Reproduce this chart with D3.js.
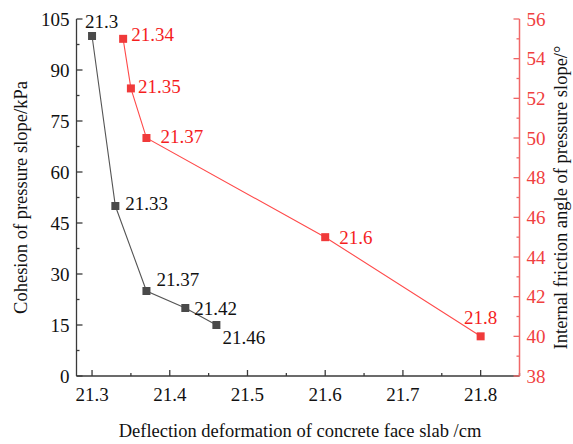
<!DOCTYPE html>
<html>
<head>
<meta charset="utf-8">
<script src="https://cdn.jsdelivr.net/npm/d3@7/dist/d3.min.js"></script>
<style>
  html, body { margin: 0; padding: 0; background: #fff; }
  svg { display: block; }
</style>
</head>
<body>
<svg id="chart" width="573" height="444"></svg>
<script>
// Cohesion series (left axis)
const cohesionDeflection = [21.3, 21.33, 21.37, 21.42, 21.46];
const cohesionValues = [100, 50, 25, 20, 15];
const cohesionLabels = ["21.3", "21.33", "21.37", "21.42", "21.46"];

// Internal friction angle series (right axis)
const frictionDeflection = [21.34, 21.35, 21.37, 21.6, 21.8];
const frictionValues = [55, 52.5, 50, 45, 40];
const frictionLabels = ["21.34", "21.35", "21.37", "21.6", "21.8"];

const xTicks = [21.3, 21.4, 21.5, 21.6, 21.7, 21.8];
const yLeftTicks = [0, 15, 30, 45, 60, 75, 90, 105];
const yRightTicks = [38, 40, 42, 44, 46, 48, 50, 52, 54, 56];

(function draw() {
  const FONT = "'Liberation Serif'";
  const svg = d3.select("#chart");
  const pLeft = 76.5, pRight = 519.5, pTop = 19, pBottom = 376;

  const x = d3.scaleLinear().domain([21.28, 21.85]).range([pLeft, pRight]);
  const yL = d3.scaleLinear().domain([0, 105]).range([pBottom, pTop]);
  const yR = d3.scaleLinear().domain([38, 56]).range([pBottom, pTop]);

  const darkAxis = "#3a3a3a";
  const redAxis = "#f06868";
  const redText = "#f51e1e";
  const darkSeries = "#4a4a4a";
  const redSeries = "#f03a3a";

  // minor ticks halfway between the major ones
  const xMinor = xTicks.map(v => v + 0.05);
  const yLMinor = yLeftTicks.slice(0, -1).map(v => v + 7.5);
  const yRMinor = yRightTicks.slice(0, -1).map(v => v + 1);

  // X axis (ticks pointing into the plot)
  const gx = svg.append("g").attr("transform", `translate(0,${pBottom})`);
  gx.append("line").attr("x1", pLeft).attr("x2", pRight).attr("stroke", darkAxis).attr("stroke-width", 1.3);
  gx.selectAll(".maj").data(xTicks).join("line")
    .attr("x1", d => x(d)).attr("x2", d => x(d)).attr("y1", 0).attr("y2", -6)
    .attr("stroke", darkAxis).attr("stroke-width", 1.3);
  gx.selectAll(".min").data(xMinor).join("line")
    .attr("x1", d => x(d)).attr("x2", d => x(d)).attr("y1", 0).attr("y2", -3)
    .attr("stroke", darkAxis).attr("stroke-width", 1.3);
  gx.selectAll("text").data(xTicks).join("text")
    .attr("x", d => x(d)).attr("y", 25).attr("text-anchor", "middle")
    .style("font-family", FONT).attr("font-size", 19).attr("fill", "#111").text(d => d.toFixed(1));

  // Left Y axis
  const gyl = svg.append("g").attr("transform", `translate(${pLeft},0)`);
  gyl.append("line").attr("y1", pTop).attr("y2", pBottom).attr("stroke", darkAxis).attr("stroke-width", 1.3);
  gyl.selectAll(".maj").data(yLeftTicks).join("line")
    .attr("y1", d => yL(d)).attr("y2", d => yL(d)).attr("x1", 0).attr("x2", 6)
    .attr("stroke", darkAxis).attr("stroke-width", 1.3);
  gyl.selectAll(".min").data(yLMinor).join("line")
    .attr("y1", d => yL(d)).attr("y2", d => yL(d)).attr("x1", 0).attr("x2", 3)
    .attr("stroke", darkAxis).attr("stroke-width", 1.3);
  gyl.selectAll("text").data(yLeftTicks).join("text")
    .attr("x", -7).attr("y", d => yL(d)).attr("dy", "0.35em").attr("text-anchor", "end")
    .style("font-family", FONT).attr("font-size", 19).attr("fill", "#111").text(d => d);

  // Right Y axis
  const gyr = svg.append("g").attr("transform", `translate(${pRight},0)`);
  gyr.append("line").attr("y1", pTop).attr("y2", pBottom).attr("stroke", redAxis).attr("stroke-width", 1.5);
  gyr.selectAll(".maj").data(yRightTicks).join("line")
    .attr("y1", d => yR(d)).attr("y2", d => yR(d)).attr("x1", 0).attr("x2", -6)
    .attr("stroke", redAxis).attr("stroke-width", 1.3);
  gyr.selectAll(".min").data(yRMinor).join("line")
    .attr("y1", d => yR(d)).attr("y2", d => yR(d)).attr("x1", 0).attr("x2", -3)
    .attr("stroke", redAxis).attr("stroke-width", 1.3);
  gyr.selectAll("text").data(yRightTicks).join("text")
    .attr("x", 7).attr("y", d => yR(d)).attr("dy", "0.35em").attr("text-anchor", "start")
    .style("font-family", FONT).attr("font-size", 19).attr("fill", "#f04040").text(d => d);

  // Axis titles
  svg.append("text").attr("x", (pLeft + pRight) / 2 + 2).attr("y", 437).attr("text-anchor", "middle")
    .style("font-family", FONT).attr("font-size", 18.5).attr("fill", "#111")
    .text("Deflection deformation of concrete face slab /cm");
  svg.append("text").attr("transform", `translate(27,${(pTop + pBottom) / 2}) rotate(-90)`)
    .attr("text-anchor", "middle").style("font-family", FONT).attr("font-size", 18.5).attr("fill", "#111")
    .text("Cohesion of pressure slope/kPa");
  svg.append("text").attr("transform", `translate(567,${(pTop + pBottom) / 2}) rotate(-90)`)
    .attr("text-anchor", "middle").style("font-family", FONT).attr("font-size", 18.5).attr("fill", "#111")
    .text("Internal friction angle of pressure slope/°");

  // Series
  const cohesion = cohesionDeflection.map((d, i) => ({ x: d, y: cohesionValues[i], label: cohesionLabels[i] }));
  const friction = frictionDeflection.map((d, i) => ({ x: d, y: frictionValues[i], label: frictionLabels[i] }));

  const lineL = d3.line().x(d => x(d.x)).y(d => yL(d.y));
  const lineR = d3.line().x(d => x(d.x)).y(d => yR(d.y));

  svg.append("path").datum(cohesion).attr("d", lineL).attr("fill", "none")
    .attr("stroke", "#555").attr("stroke-width", 1.1);
  svg.append("path").datum(friction).attr("d", lineR).attr("fill", "none")
    .attr("stroke", "#ff4a4a").attr("stroke-width", 1.1);

  const ms = 8;
  svg.selectAll(".mL").data(cohesion).join("rect")
    .attr("x", d => x(d.x) - ms / 2).attr("y", d => yL(d.y) - ms / 2)
    .attr("width", ms).attr("height", ms).attr("fill", darkSeries);
  svg.selectAll(".mR").data(friction).join("rect")
    .attr("x", d => x(d.x) - ms / 2).attr("y", d => yR(d.y) - ms / 2)
    .attr("width", ms).attr("height", ms).attr("fill", redSeries);

  // Data labels: offsets relative to each marker
  const cohesionOffsets = [[-7, -15, "start"], [10, -3, "start"], [10, -12, "start"], [9, 0, "start"], [6, 12, "start"]];
  const frictionOffsets = [[8, -4, "start"], [7, -2, "start"], [14, -2, "start"], [14, 0, "start"], [0, -19, "middle"]];

  svg.selectAll(".lL").data(cohesion).join("text")
    .attr("x", (d, i) => x(d.x) + cohesionOffsets[i][0])
    .attr("y", (d, i) => yL(d.y) + cohesionOffsets[i][1])
    .attr("dy", "0.35em").attr("text-anchor", (d, i) => cohesionOffsets[i][2])
    .style("font-family", FONT).attr("font-size", 19).attr("fill", "#111").text(d => d.label);
  svg.selectAll(".lR").data(friction).join("text")
    .attr("x", (d, i) => x(d.x) + frictionOffsets[i][0])
    .attr("y", (d, i) => yR(d.y) + frictionOffsets[i][1])
    .attr("dy", "0.35em").attr("text-anchor", (d, i) => frictionOffsets[i][2])
    .style("font-family", FONT).attr("font-size", 19).attr("fill", redText).text(d => d.label);
})();
</script>
</body>
</html>
